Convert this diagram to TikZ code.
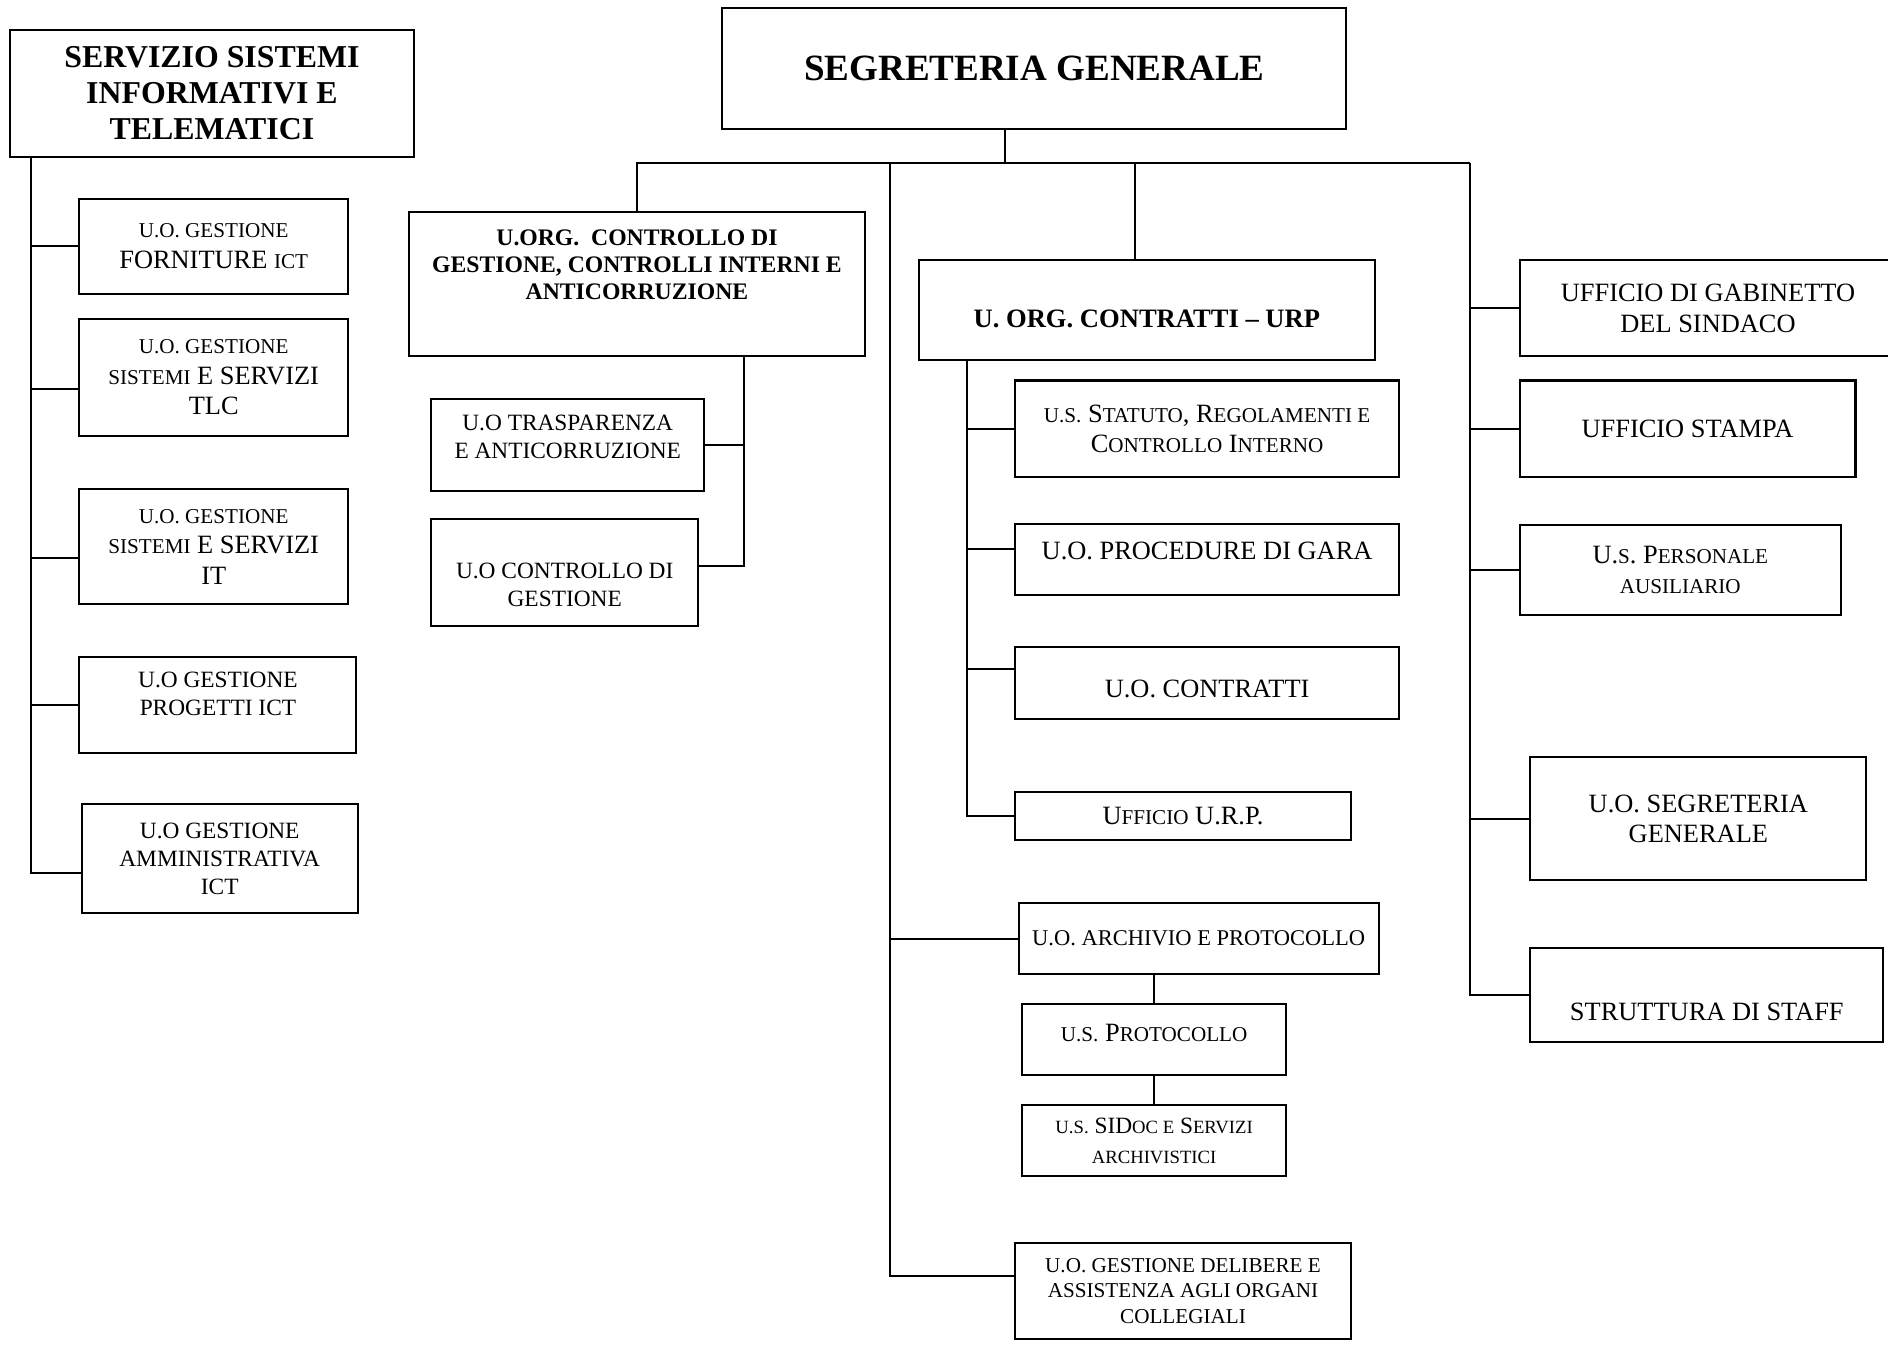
\documentclass[tikz,border=0pt]{standalone}
\usepackage{fontspec}
\setmainfont{Liberation Serif}
\usetikzlibrary{positioning}

% smaller capitals inside a label
\makeatletter
\newcommand{\sml}[1]{{\fontsize{\fpeval{0.8*\f@size}}{\f@baselineskip}\selectfont #1}}
\makeatother

\begin{document}
\begin{tikzpicture}[
    box/.style={rectangle, draw, line width=1.2pt, align=center, inner sep=0pt, outer sep=0pt},
    wh/.style 2 args={minimum width=#1cm, minimum height=#2cm},
    bigtxt/.style={font=\fontsize{15.6}{18}\selectfont},
    midtxt/.style={font=\fontsize{13.8}{16.5}\selectfont},
    smalltxt/.style={font=\fontsize{12.5}{15}\selectfont},
    lift/.style={text depth=#1},
    drop/.style={text height=#1},
    link/.style={line width=1.2pt},
]
\useasboundingbox (0,0) rectangle (39.2,-27.925);

% Left block - Servizio sistemi
\node[box, wh={8.4}{2.625}, anchor=north west, font=\fontsize{18.8}{21.3}\selectfont\bfseries] (servizio) at (0.2,-0.625) {
    SERVIZIO SISTEMI\\INFORMATIVI E\\TELEMATICI};
\node[box, bigtxt, wh={5.575}{1.975}, anchor=north west] (forniture) at (1.65,-4.125) {
    \sml{U.O. GESTIONE}\\FORNITURE \sml{ICT}};
\node[box, bigtxt, wh={5.575}{2.425}, below=0.525cm of forniture.south west, anchor=north west] (tlc) {
    \sml{U.O. GESTIONE}\\\sml{SISTEMI} E SERVIZI\\TLC};
\node[box, bigtxt, wh={5.575}{2.4}, below=1.1cm of tlc.south west, anchor=north west] (it) {
    \sml{U.O. GESTIONE}\\\sml{SISTEMI} E SERVIZI\\IT};
\node[box, midtxt, wh={5.75}{1.975}, below=1.1cm of it.south west, anchor=north west] (progetti) {
    U.O GESTIONE\\PROGETTI ICT\\[-3.7pt]\mbox{}};
\node[box, midtxt, wh={5.725}{2.25}, anchor=north west] (amministrativa) at (1.7,-16.7) {
    U.O GESTIONE\\AMMINISTRATIVA\\ICT};

% Top - Segreteria generale
\node[box, wh={12.95}{2.5}, anchor=north west, font=\fontsize{21.9}{26}\selectfont\bfseries] (sg) at (15.0,-0.175) {
    SEGRETERIA GENERALE};

% Controllo di gestione
\node[box, wh={9.45}{3.0}, anchor=north west, font=\fontsize{14}{16}\selectfont\bfseries] (cg) at (8.5,-4.4) {
    U.ORG.~ CONTROLLO DI\\GESTIONE, CONTROLLI INTERNI E\\ANTICORRUZIONE\\[6.8pt]\mbox{}};
\node[box, midtxt, wh={5.675}{1.925}, anchor=north west] (tra) at (8.95,-8.275) {
    U.O TRASPARENZA\\E ANTICORRUZIONE\\[-6.5pt]\mbox{}};
\node[box, midtxt, wh={5.55}{2.225}, below=0.575cm of tra.south west, anchor=north west] (cdg) {
    \mbox{}\\[6.8pt]U.O CONTROLLO DI\\GESTIONE};

% Contratti - URP
\node[box, wh={9.475}{2.075}, anchor=north west, drop=21pt, font=\fontsize{15.7}{18}\selectfont\bfseries] (cu) at (19.075,-5.4) {
    U. ORG. CONTRATTI \textendash{} URP};
\node[box, bigtxt, wh={7.975}{2.0}, anchor=north west] (statuto) at (21.075,-7.9) {
    \sml{U.S.} S\sml{TATUTO}, R\sml{EGOLAMENTI E}\\C\sml{ONTROLLO} I\sml{NTERNO}};
\node[box, bigtxt, wh={7.975}{1.475}, lift=10.6pt, below=0.975cm of statuto.south west, anchor=north west] (procedure) {
    U.O. PROCEDURE DI GARA};
\node[box, bigtxt, wh={7.975}{1.5}, drop=17.5pt, below=1.075cm of procedure.south west, anchor=north west] (contratti) {
    U.O. CONTRATTI};
\node[box, bigtxt, wh={6.975}{1.0}, below=1.525cm of contratti.south west, anchor=north west] (urp) {
    U\sml{FFICIO} U.R.P.};

% Archivio e protocollo
\node[box, font=\fontsize{13.3}{16}\selectfont, wh={7.475}{1.475}, anchor=north west] (archivio) at (21.15,-18.75) {
    U.O. ARCHIVIO E PROTOCOLLO};
\node[box, bigtxt, wh={5.475}{1.475}, lift=8.6pt, anchor=north west] (protocollo) at (21.225,-20.85) {
    \sml{U.S.} P\sml{ROTOCOLLO}};
\node[box, font=\fontsize{13.8}{17.7}\selectfont, wh={5.475}{1.475}, below=0.625cm of protocollo.south west, anchor=north west] (sidoc) {
    \sml{U.S.} SID\sml{OC E} S\sml{ERVIZI}\\\sml{ARCHIVISTICI}};
\node[box, smalltxt, wh={6.975}{2.0}, anchor=north west] (delibere) at (21.075,-25.8) {
    U.O. GESTIONE DELIBERE E\\ASSISTENZA AGLI ORGANI\\COLLEGIALI};

% Right block - staff
\node[box, bigtxt, wh={7.825}{2.0}, anchor=north west] (gabinetto) at (31.55,-5.4) {
    UFFICIO DI GABINETTO\\DEL SINDACO};
\node[box, bigtxt, wh={6.975}{2.0}, below=0.5cm of gabinetto.south west, anchor=north west] (stampa) {
    UFFICIO STAMPA};
\node[box, bigtxt, wh={6.675}{1.875}, below=1.0cm of stampa.south west, anchor=north west] (personale) {
    U.\sml{S}. P\sml{ERSONALE}\\\sml{AUSILIARIO}};
\node[box, bigtxt, wh={6.975}{2.55}, anchor=north west] (uosg) at (31.775,-15.725) {
    U.O. SEGRETERIA\\GENERALE};
\node[box, bigtxt, wh={7.325}{1.95}, drop=30.3pt, below=1.4cm of uosg.south west, anchor=north west] (staff) {
    STRUTTURA DI STAFF};

% Connectors
\coordinate (lbus) at (0.65,-3.25);
\coordinate (hub) at (20.875,-3.375);
\coordinate (lbr) at (18.475,-3.375);
\coordinate (cstem) at (23.575,-3.375);
\coordinate (rbus) at (30.525,-3.375);
\coordinate (gbus) at (15.45,-7.4);
\coordinate (cbus) at (20.075,-7.475);

\draw[link] (lbus) |- (amministrativa.186);
\foreach \n in {forniture.west, tlc.185, it.185, progetti.west}
    \draw[link] (lbus |- \n) -- (\n);

\draw[link] (hub |- sg.south) -- (hub);
\draw[link] (cg.north) |- (rbus);
\draw[link] (cstem) -- (cstem |- cu.north);

\draw[link] (gbus) |- (cdg.3);
\draw[link] (gbus |- tra.east) -- (tra.east);

\draw[link] (cbus) |- (urp.west);
\foreach \n in {statuto.west, procedure.177, contratti.176}
    \draw[link] (cbus |- \n) -- (\n);

\draw[link] (lbr) |- (delibere.175);
\draw[link] (lbr |- archivio.west) -- (archivio.west);
\draw[link] (archivio.south -| protocollo.north) -- (protocollo.north);
\draw[link] (protocollo.south) -- (sidoc.north);

\draw[link] (rbus) |- (staff.west);
\foreach \n in {gabinetto, stampa, personale, uosg}
    \draw[link] (rbus |- \n.west) -- (\n.west);

\end{tikzpicture}
\end{document}
